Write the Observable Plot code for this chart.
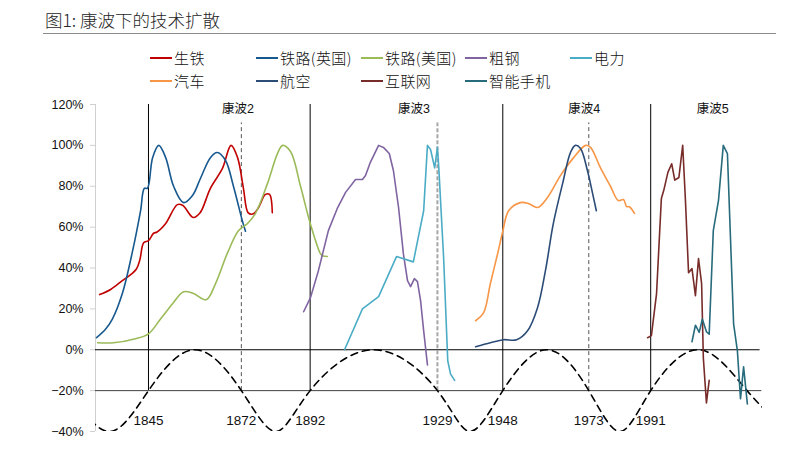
<!DOCTYPE html>
<html><head><meta charset="utf-8">
<script src="https://cdn.jsdelivr.net/npm/d3@7"></script>
<script src="https://cdn.jsdelivr.net/npm/@observablehq/plot@0.6"></script>
<style>
body{margin:0;background:#fff;font-family:"Noto Sans CJK SC",sans-serif;}
#wrap{position:relative;width:793px;height:458px;overflow:hidden;background:#fff}
#title{position:absolute;left:45px;top:7px;font-size:17.5px;font-weight:300;color:#262626;line-height:26px;white-space:nowrap}
#rule{position:absolute;left:43px;top:33px;width:733px;height:0;border-top:1.5px solid #8a8a8a}
.leg{position:absolute;font-size:15px;font-weight:300;line-height:20px;display:flex;align-items:center;color:#111;white-space:nowrap}
.leg i{display:inline-block;width:22px;height:2.5px;margin-right:2px}
.leg span{letter-spacing:0.4px}
#chart{position:absolute;left:0;top:95px}
</style></head>
<body>
<div id="wrap">
  <div id="title">图1: 康波下的技术扩散</div>
  <div id="rule"></div>
  <div id="legend"></div>
  <div id="chart"></div>
</div>
<script>
// ---- data ----
const seriesNames = ["生铁","铁路(英国)","铁路(美国)","粗钢","电力","汽车","航空","互联网","智能手机"];
const seriesColors = ["#C00000","#17598F","#9BBB59","#8064A2","#4BACC6","#F79646","#2C4C78","#772C2A","#276B7C"];
const legendLeft = [150,256,361,465,570,150,256,361,465];
const legendTop  = [48,48,48,48,48,71,71,71,71];

const pigIron = [[1830.8,27],[1834,29.5],[1837.4,33.8],[1840,37],[1841.5,39.5],[1842.5,44],[1843.6,52.4],[1845,53.4],[1846.5,57],[1847.5,57.6],[1850,61.8],[1853.4,71],[1855,70.6],[1858,64.7],[1860,67],[1863,79],[1866.5,88.7],[1869,100],[1870.9,94],[1872.6,79],[1874,67],[1875.5,66.5],[1877,69.6],[1879,76],[1880.2,76],[1881,67]];
const railUK = [[1829.9,5.9],[1832.5,10],[1834.5,15],[1837.4,27.5],[1840.4,48.5],[1842.7,68],[1843.8,79],[1844.7,79],[1846.2,94],[1848,100],[1850,94],[1852.3,80],[1855.2,72],[1857.8,75.5],[1860.1,83.8],[1863,94],[1865,96.5],[1867.4,92.6],[1869.7,80],[1872.3,63],[1873.2,58]];
const railUS = [[1830.2,3.4],[1834.8,3.4],[1841.2,5.4],[1845,7.8],[1848.5,15],[1852,22.5],[1855.2,28.4],[1858.1,27.5],[1861.8,24.5],[1864.5,32.4],[1868,47.5],[1871.2,58.3],[1873.8,61.8],[1876.1,66.7],[1879.6,81.4],[1882.5,96],[1884,100],[1886.3,97],[1889.2,80],[1892,62],[1895,47],[1895.6,46],[1897,45.6]];
const steel = [[1890.1,18.6],[1892.1,25.5],[1894.4,38.7],[1897.3,58.3],[1900,69.6],[1902.3,77],[1905.2,83.3],[1907.2,83.3],[1908.1,85.3],[1909.5,91.7],[1911.9,100],[1913.3,99],[1915,96],[1916.2,87.7],[1917.7,69.6],[1919.1,47],[1920.3,33.8],[1921.2,30.9],[1922.3,34.8],[1923.2,33.3],[1924.1,24],[1925,9.3],[1926.1,-7.4]];
const power = [[1902,0],[1907.2,20],[1911.9,26],[1917.1,45.6],[1922,43],[1925,68],[1926.1,100],[1927,98],[1928.2,89],[1929,99],[1929.4,89],[1930.8,45],[1932,-5.4],[1932.8,-11.8],[1934,-15]];
const auto = [[1940.1,14.2],[1942.4,18],[1944.4,32.4],[1946.5,47],[1948,58],[1949.7,68],[1953.1,72],[1955.5,71.5],[1958.1,69.6],[1961,74.5],[1964.8,85.3],[1968.6,94],[1972.1,100],[1973.5,99],[1976.4,89],[1979.3,80],[1981.6,73],[1983.1,73.5],[1984,70],[1984.8,70],[1986.3,66.7]];
const aviation = [[1940.1,1.5],[1944.4,3.4],[1948.2,4.9],[1952,4.9],[1955.2,9.3],[1958.1,20.6],[1960.4,38.7],[1962.7,61.8],[1965.4,81.4],[1967.7,96.6],[1969.1,100],[1970.6,98.5],[1972.6,87.7],[1974.1,76.5],[1975.2,68]];
const internet = [[1990.1,5.9],[1991.2,6.9],[1992.7,27.5],[1994.1,74],[1994.8,78],[1996,86.8],[1997.1,91],[1998,83],[1999.2,84.3],[2000.3,100],[2001.1,73],[2002,37.7],[2003,39.7],[2004,26.5],[2004.9,44.6],[2005.8,32.4],[2006.3,-3.9],[2007.2,-26],[2008,-15]];
const smartphone = [[2003,3.9],[2004,12],[2005.1,8.5],[2006,15],[2007.2,8.8],[2008,7.6],[2009.2,58.3],[2010.7,73],[2012.1,100],[2013.3,96],[2015.1,12.7],[2016.2,-0.5],[2017.1,-24],[2018,-8.3],[2019.1,-26.5]];
const seriesData = [pigIron, railUK, railUS, steel, power, auto, aviation, internet, smartphone];
const seriesCurve = ["catmull-rom","catmull-rom","catmull-rom","linear","linear","catmull-rom","catmull-rom","linear","linear"];

// Kondratieff wave schematic: crossings, peaks and troughs
const waveKeys = [[1822,-20],[1833.6,-40],[1845,-20],[1858.5,0],[1872,-20],[1882,-40],[1892,-20],[1910.5,0],[1929,-20],[1938.5,-40],[1948,-20],[1960.8,0],[1973,-20],[1982,-40],[1991,-20],[2005,0],[2019,-20],[2031,-40]];
const solidYears = [1845,1892,1948,1991];
const dashedYears = [1872,1973];
const grayDashedYears = [1929];
const yearLabels = [1845,1872,1892,1929,1948,1973,1991];
const waveNames = ["康波2","康波3","康波4","康波5"];
const waveLabelX = [1871,1922.2,1971.7,2009];
const yTicks = [-40,-20,0,20,40,60,80,100,120];

// ---- legend ----
const leg = document.getElementById("legend");
seriesNames.forEach((n,i)=>{
  const d = document.createElement("div");
  d.className = "leg";
  d.style.left = legendLeft[i]+"px";
  d.style.top = legendTop[i]+"px";
  d.innerHTML = `<i style="background:${seriesColors[i]}"></i><span>${n}</span>`;
  leg.appendChild(d);
});

// ---- chart ----
const x0 = 1829.6, x1 = 2023.5;
const marks = [
  Plot.ruleX([x0], {y1: -40, y2: 120, stroke: "#d0d0d0"}),
  Plot.axisY({ticks: yTicks, tickSize: 5, tickPadding: 7, stroke: "#d0d0d0", fill: "#111",
    tickFormat: d => (d < 0 ? "\u2212" + (-d) : d) + "%", fontSize: 12.5}),
  Plot.ruleY([0], {x1: x0, x2: 2022.8, stroke: "#000"}),
  Plot.ruleY([-20], {x1: x0, x2: 2023.3, stroke: "#404040"}),
  Plot.ruleX(solidYears, {y1: -20, y2: 120, stroke: "#000"}),
  Plot.ruleX(dashedYears, {y1: -20, y2: 111, stroke: "#555", strokeDasharray: "4,3"}),
  Plot.ruleX(grayDashedYears, {y1: -20, y2: 111, stroke: "#a6a6a6", strokeWidth: 2, strokeDasharray: "4,2"}),
  Plot.line(waveKeys, {x: d => d[0], y: d => d[1], curve: "natural", stroke: "#000", strokeWidth: 1.6, strokeDasharray: "7,5", clip: true}),
];
seriesData.forEach((s,i)=>{
  marks.push(Plot.line(s, {x: d => d[0], y: d => d[1], stroke: seriesColors[i], strokeWidth: 1.6, curve: seriesCurve[i]}));
});
marks.push(Plot.text(waveNames, {x: (d,i) => waveLabelX[i], y: 117.6, text: d => d, fontSize: 12.5, fill: "#111"}));
marks.push(Plot.text(yearLabels, {x: d => d, y: -34.8, text: d => String(d), fontSize: 13.5, fill: "#111"}));

const chart = Plot.plot({
  width: 793, height: 363,
  marginLeft: 95, marginRight: 31, marginTop: 9, marginBottom: 27,
  x: {domain: [x0, x1], axis: null},
  y: {domain: [-40, 120], axis: null},
  style: {fontFamily: "'Liberation Sans', Arial, 'Noto Sans CJK SC', sans-serif", background: "white", overflow: "visible", color: "#111"},
  marks
});
document.getElementById("chart").appendChild(chart);
</script>
</body></html>
